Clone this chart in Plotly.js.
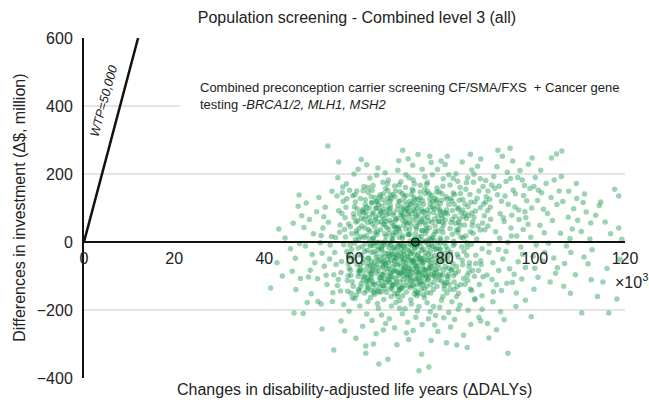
<!DOCTYPE html>
<html>
<head>
<meta charset="utf-8">
<script src="https://cdn.plot.ly/plotly-3.0.1.min.js"></script>
<style>html,body{margin:0;padding:0;background:#fff;}#chart{width:649px;height:402px;}</style>
</head>
<body>
<div id="chart"></div>
<script>
// Simulated outcomes: [ΔDALYs (thousands), Δ$ (million)]
const coreSims = [
[62.3,41],[70.8,-12],[75.4,88],[66.1,-97],[81.7,23],[58.9,-45],[73.2,131],[68.4,6],[79.9,-138],[64.7,72],[77.1,-63],[71.6,54],[60.2,118],[84.3,-28],[69.5,-151],[74.8,17],[57.6,-8],[82.9,97],[65.3,-121],[72.4,-35],
[67.9,109],[78.6,61],[63.5,-70],[86.2,-84],[70.1,148],[59.8,83],[76.3,-109],[73.9,-2],[61.4,-132],[80.5,126],[68.8,-56],[75.9,39],[56.7,29],[83.1,-151],[71.2,93],[64.1,10],[78.2,-19],[66.9,157],[72.8,-89],[87.4,47],
[69.2,68],[62.8,-25],[80.1,-72],[74.3,113],[58.4,-113],[77.7,5],[65.8,36],[85.6,140],[70.5,-44],[61.9,96],[73.5,-143],[67.2,-79],[79.3,79],[63.9,152],[76.8,-27],[55.9,-66],[82.2,-5],[71.9,22],[68.1,127],[74.6,-117],
[60.7,62],[78.9,-99],[66.4,-3],[84.7,18],[72.1,74],[57.3,145],[75.2,-58],[69.8,-131],[63.2,-48],[81.4,57],[70.3,-88],[77.4,103],[64.5,-154],[86.9,-39],[73.7,45],[59.4,-22],[67.6,84],[79.6,-160],[62.1,13],[74.0,-71],
[71.4,137],[65.5,-106],[83.6,86],[68.6,-17],[76.0,-130],[58.1,102],[72.6,-53],[80.8,-41],[66.7,51],[61.1,-92],[75.6,156],[70.0,30],[78.4,-3],[63.7,-141],[85.1,-113],[69.0,-66],[73.1,94],[56.2,-128],[82.6,35],[67.4,-34],
[74.9,61],[60.4,-156],[77.0,-84],[65.0,120],[71.8,-105],[79.0,12],[62.6,88],[68.3,-139],[84.0,-67],[73.4,-19],[58.7,53],[76.6,142],[66.2,-59],[81.0,-124],[70.7,77],[64.3,-11],[87.9,101],[72.3,3],[59.1,-83],[75.1,-97],
[67.0,16],[78.1,118],[63.0,-115],[70.9,-29],[82.4,-92],[65.7,139],[73.8,-158],[61.6,-38],[77.9,47],[69.6,107],[74.5,-46],[57.9,71],[80.3,-14],[66.0,-146],[72.0,57],[85.9,-7],[68.0,-102],[75.7,25],[62.4,124],[79.5,-57],
[71.1,-75],[64.9,100],[76.9,-150],[60.0,-4],[83.3,68],[69.3,-117],[73.0,150],[67.7,-42],[78.7,-111],[58.6,-99],[74.2,83],[65.2,-23],[81.9,144],[70.4,-137],[63.4,31],[76.4,-7],[56.5,92],[72.7,-127],[68.9,44],[80.0,-33],
[66.5,-128],[75.3,110],[61.8,-60],[79.7,87],[71.5,-147],[64.0,-85],[84.5,-124],[69.9,39],[77.2,-52],[59.6,136],[73.3,-68],[67.3,128],[82.0,2],[62.9,-105],[75.5,-137],[70.2,-6],[86.5,73],[65.9,-41],[78.3,159],[60.9,9],
[66.3,-71],[71.7,-22],[74.1,-93],[68.7,48],[63.6,-9],[77.6,-118],[70.6,11],[65.6,-133],[72.9,65],[69.4,-86],[75.8,-31],[64.6,27],[78.8,-77],[67.8,-110],[73.6,-48],[61.3,-79],[76.2,72],[70.8,-99],[66.8,-64],[74.7,-14],
[68.5,-125],[72.2,37],[63.1,-134],[77.3,14],[69.7,-38],[65.1,58],[75.0,-104],[71.3,-61],[79.2,-36],[62.7,-117],[73.0,-81],[67.5,-4],[76.7,-69],[64.4,-62],[70.0,-142],[74.4,53],[68.2,-28],[72.5,-115],[66.6,-89],[78.5,32],
[60.6,-67],[71.0,-50],[75.4,-80],[63.8,-95],[69.1,-108],[77.8,-93],[65.4,-16],[73.9,-126],[67.1,-148],[80.7,-108],[62.0,-51],[70.3,-73],[74.0,-40],[68.0,-9],[76.1,-149],[64.2,-149],[72.4,-96],[66.0,-113],[79.8,-83],[71.9,-130],
[58.0,15],[59.7,-130],[61.0,40],[62.2,-150],[63.3,99],[64.8,-35],[66.2,76],[67.9,-92],[69.0,133],[70.4,-20],[71.7,108],[73.1,-60],[74.6,147],[76.0,4],[77.5,-140],[78.9,95],[80.2,-48],[81.6,121],[83.0,-86],[84.4,50],
[85.7,-138],[87.1,9],[57.1,-57],[60.0,104],[61.7,-14],[63.0,146],[64.0,-118],[65.9,88],[67.3,-50],[68.6,19],[70.1,-117],[71.3,160],[72.7,-30],[74.0,100],[75.3,-155],[76.5,62],[77.9,-22],[79.4,142],[80.9,-95],[82.3,76],
[83.8,-14],[85.2,104],[86.6,-101],[88.0,-55],[58.5,-145],[60.5,25],[62.0,-103],[63.6,60],[65.0,-76],[66.4,142],[68.1,-160],[69.5,95],[70.9,-57],[72.3,120],[73.8,-10],[75.1,90],[76.4,-96],[77.8,129],[79.1,-4],[80.5,-150],
[81.8,-63],[83.2,123],[84.9,-40],[86.3,26],[56.8,50],[59.2,-98],[61.5,70],[64.6,-140],[67.0,60],[69.6,-160],[72.0,90],[74.5,-122],[77.0,-43],[79.6,28],[82.1,-118],[84.6,83],[87.5,-84],[71.0,-83],[68.4,-73],[73.5,24]
];
const denseSims = [
[61.2,-84],[62.9,57],[64.3,-29],[65.7,93],[67.0,-66],[68.3,12],[69.7,-99],[71.0,73],[72.4,-7],[73.7,39],[75.1,-72],[76.4,85],[77.8,-40],[79.1,6],[60.4,32],[63.8,-57],[66.6,-8],[69.0,62],[71.9,-44],[74.8,-91],
[62.0,87],[63.5,-93],[65.0,21],[66.5,-45],[68.0,100],[69.4,-23],[70.9,49],[72.2,-83],[73.6,72],[75.0,4],[76.3,-55],[77.7,97],[79.0,-95],[61.0,-38],[64.6,66],[67.6,-78],[70.4,87],[73.2,-35],[76.0,33],[78.6,-64],
[60.8,-18],[62.5,76],[64.0,-71],[65.5,-1],[67.1,43],[68.7,-86],[70.2,-33],[71.6,98],[73.0,-54],[74.3,15],[75.9,-82],[77.2,58],[78.9,-19],[63.3,8],[66.2,-96],[69.2,27],[72.8,83],[75.6,-43],[79.5,71],[80.9,-77],
[61.6,47],[63.0,-62],[64.7,99],[66.1,-25],[67.8,64],[69.1,-50],[70.7,18],[72.1,-69],[73.4,91],[74.9,-25],[76.6,42],[78.1,-88],[79.8,51],[62.3,-99],[65.2,-52],[68.6,79],[71.4,-95],[74.1,-60],[77.0,7],[80.4,95],
[55.6,-31],[57.2,84],[58.8,-77],[60.1,139],[82.7,-131],[84.1,12],[85.5,-61],[86.8,91],[88.3,-20],[89.6,47],[56.4,-110],[57.8,37],[59.3,-151],[83.5,143],[85.0,-98],[86.2,59],[87.7,-125],[89.1,118],[81.3,-30],[83.9,-54],
[61.3,128],[64.1,-124],[66.9,115],[69.9,-140],[72.6,140],[75.4,-118],[78.2,124],[80.6,-101],[62.7,-143],[65.6,132],[68.4,-129],[71.2,119],[74.2,-152],[77.1,137],[79.9,-121],[63.9,115],[67.4,-114],[70.6,142],[73.9,-109],[76.8,114],
[59.0,-9],[60.3,59],[61.9,-112],[63.1,37],[64.9,-92],[66.7,24],[68.8,-43],[70.5,104],[72.5,-103],[74.7,68],[76.5,-15],[78.3,-130],[80.1,65],[81.5,-83],[82.9,28],[84.2,-107],[85.3,78],[86.9,-63],[88.5,-102],[87.2,129],
[60.9,-140],[62.8,-72],[64.4,-4],[66.3,52],[68.1,-55],[69.8,-12],[71.6,-118],[73.3,10],[75.0,-49],[76.9,-126],[78.4,77],[80.0,-3],[81.2,-139],[82.8,-36],[84.8,69],[86.0,-143],[87.9,35],[58.3,127],[59.8,-56],[57.0,-90],
[66.0,-20],[67.4,-100],[68.8,29],[70.2,-93],[71.5,-5],[72.9,-57],[74.3,-107],[75.7,-1],[77.1,-97],[78.5,-46],[65.3,-85],[66.8,-137],[68.2,-1],[69.5,-67],[70.8,-110],[72.2,-26],[73.6,-73],[75.0,-125],[76.4,-36],[77.8,-70],
[63.4,-110],[64.8,-46],[66.2,-128],[67.6,-16],[69.0,-83],[70.4,-48],[71.8,-87],[73.1,-128],[74.5,-2],[75.9,-97],[62.1,-84],[63.7,-30],[65.1,-145],[66.5,-57],[67.9,-119],[69.3,-36],[70.7,-158],[72.1,-78],[73.5,-111],[74.9,-56],
[60.6,97],[61.9,151],[63.3,71],[64.6,130],[66.0,105],[67.4,151],[68.7,86],[70.1,121],[71.4,60],[72.8,155],[74.1,126],[75.5,74],[76.8,102],[78.2,146],[79.5,57],[80.9,110],[82.2,140],[62.4,110],[65.4,79],[69.1,150],
[71.0,133],[73.9,57],[77.5,87],[81.7,93],[84.0,125],[86.1,48],[88.8,77],[67.7,95],[64.2,86],[74.6,130],[79.0,113],[83.1,58],[85.8,117],[87.6,150],[89.9,-5],[90.5,-110],[91.3,30],[92.9,-50],[94.1,111],[95.4,-95]
];
const centreSims = [
[59.4,24],[60.8,-101],[62.1,66],[63.5,-12],[64.9,118],[66.2,-74],[67.6,38],[69.0,-124],[70.3,81],[71.7,-41],[73.0,116],[74.4,-86],[75.8,50],[77.1,-9],[78.5,104],[79.9,-128],[81.2,40],[82.6,-71],[84.0,94],[60.0,-45],
[61.5,-122],[62.6,19],[64.1,-80],[65.3,110],[66.9,-33],[68.2,56],[69.5,-6],[70.9,-128],[72.2,102],[73.8,-87],[75.1,33],[76.3,-112],[77.7,68],[79.2,-50],[80.5,11],[82.0,-99],[83.4,49],[85.0,-15],[58.6,-63],[67.0,-120],
[60.2,8],[61.7,91],[63.0,-47],[64.5,44],[65.8,-105],[67.2,80],[68.5,-35],[69.9,14],[71.2,-71],[72.6,50],[73.9,-148],[75.3,-21],[76.7,127],[78.0,-104],[79.4,40],[80.8,-57],[82.1,111],[83.5,-126],[84.9,-2],[66.1,125],
[58.3,-28],[59.9,72],[61.3,-67],[62.8,-129],[64.2,12],[65.6,-56],[67.0,97],[68.4,-102],[69.7,44],[71.1,-15],[72.4,-134],[73.8,78],[75.2,-61],[76.6,10],[78.0,-81],[79.3,123],[80.7,-22],[82.1,-140],[83.6,15],[85.4,-72],
[62.4,-5],[63.9,82],[65.5,-148],[66.8,3],[68.2,-88],[69.6,70],[71.0,-35],[72.3,23],[73.7,-97],[75.1,122],[76.5,-78],[77.9,30],[79.3,-115],[80.6,82],[81.9,-10],[63.2,-85],[70.0,-62],[74.2,-33],[77.5,-13],[71.4,38],
[66.7,-108],[68.9,-17],[70.6,-134],[72.0,-54],[73.4,-16],[74.8,-139],[76.2,-52],[77.6,-100],[79.0,-23],[69.3,-48],[67.5,-61],[71.8,-100],[65.0,-67],[63.8,-105],[75.6,-84],[72.7,-10],[68.0,-135],[74.0,-79],[70.9,-86],[76.9,-74],
[64.4,-125],[62.3,-27],[61.0,-145],[66.1,-12],[67.9,-40],[70.1,-9],[72.8,-114],[74.4,-49],[78.2,-58],[80.4,-120],[81.6,-80],[59.5,-117],[60.9,-85],[64.9,-2],[69.8,-91],[73.3,-153],[76.0,-103],[79.6,-98],[83.0,-44],[68.9,-152],
[63.7,134],[65.9,60],[68.5,139],[70.8,97],[73.4,125],[76.1,94],[78.7,60],[81.3,129],[84.2,75],[66.4,89],[72.4,111],[75.7,143],[80.2,85],[61.1,83],[69.8,119],[77.3,119],[67.9,121],[74.8,96],[83.0,101],[86.7,118]
];
const aboveSims = [
[59.1,45],[61.4,16],[63.8,117],[65.1,31],[66.6,68],[68.0,138],[69.3,41],[70.7,63],[72.0,21],[73.5,107],[74.9,34],[76.2,149],[77.6,22],[79.0,90],[80.3,133],[81.7,67],[83.1,37],[84.5,112],[86.0,85],[88.4,56],
[90.1,102],[91.7,139],[93.2,60],[94.8,18],[96.4,94],[98.0,71],[62.7,102],[64.0,54],[67.7,26],[71.8,84],[75.4,58],[78.8,148],[82.4,55],[85.7,30],[89.2,133],[92.6,120],[95.7,142],[97.4,37],[99.8,163],[101.9,96],
[60.5,150],[63.0,160],[66.3,176],[69.9,168],[73.0,182],[76.0,170],[79.6,164],[82.9,179],[86.4,176],[89.6,150],[92.1,164],[94.6,187],[97.2,182],[100.8,152],[104.3,182],[107.5,149],[58.9,152],[87.9,186],[84.7,155],[80.9,198]
];
const upperSims = [
[58.2,171],[63.4,188],[66.8,204],[70.3,177],[72.9,226],[75.6,192],[78.4,213],[81.2,168],[83.9,235],[86.5,199],[89.1,181],[61.5,243],[68.9,165],[74.1,257],[79.7,186],[84.8,174],[91.6,221],[96.2,190],[99.4,247],[102.5,172],
[65.2,218],[69.8,239],[73.3,171],[77.0,234],[80.6,252],[88.0,244],[93.9,205],[97.7,166],[101.3,211],[104.8,259],[59.9,200],[64.1,166],[71.4,198],[76.2,176],[82.5,201],[85.7,258],[90.4,168],[95.1,238],[105.9,193],[109.2,172],
[56.3,189],[62.7,227],[67.5,182],[75.0,214],[87.3,223],[92.8,252],[98.6,229],[103.7,247],[57.4,162],[80.1,228],
[62.1,163],[64.9,196],[67.3,171],[69.6,211],[72.1,189],[74.6,167],[77.3,198],[79.2,238],[81.9,187],[83.4,160],[86.0,212],[88.5,163],[90.9,193],[93.6,178],[96.7,210],[100.1,190],[60.8,214],[71.9,245],[76.7,252],[85.1,189]
];
const rightSims = [
[88.6,112],[90.2,67],[91.9,-22],[93.4,135],[94.7,41],[96.3,-58],[97.8,89],[99.1,14],[100.6,122],[102.2,-31],[103.9,63],[105.4,150],[107.0,-12],[108.6,98],[110.3,31],[111.8,-64],[113.5,79],[115.1,-118],[116.8,24],[118.9,-51],
[89.4,-97],[91.1,158],[92.6,-143],[94.0,-1],[95.6,103],[97.1,-109],[98.5,52],[100.0,-77],[101.5,145],[103.0,-4],[104.6,-92],[106.2,119],[107.9,-151],[109.5,64],[111.0,141],[112.7,-23],[114.3,107],[116.0,-78],[117.7,155],[119.3,8],
[88.9,36],[90.7,-61],[92.3,83],[93.8,-121],[95.2,152],[96.9,-15],[98.2,121],[99.8,-139],[101.1,49],[102.8,84],[104.2,-47],[105.7,26],[107.4,73],[109.0,-96],[110.7,116],[112.2,9],[113.9,-160],[115.6,59],[96.0,18],[99.6,-42],
[89.8,-30],[91.5,-126],[93.0,71],[94.4,-79],[95.9,-150],[97.5,137],[100.3,-9],[103.4,-118],[106.6,-63],[108.3,38],
[88.3,-158],[90.0,126],[92.0,-84],[94.9,79],[97.3,-36],[98.9,157],[101.8,-56],[104.9,110],[108.0,-31],[111.4,88],
[85.4,-88],[86.7,-170],[88.1,-66],[89.5,92],[90.8,-146],[92.2,11],[93.6,-28],[95.0,-119],[96.5,66],[97.9,-75],[99.3,100],[100.7,-104],[102.1,27],[103.6,131],[105.0,-76],[106.4,-130],[107.8,10],[109.3,128],[110.9,-44],[112.5,-111]
];
const lowerSims = [
[55.1,-175],[58.8,-204],[61.2,-188],[63.9,-231],[66.5,-169],[68.9,-252],[71.2,-196],[73.6,-221],[76.1,-179],[78.5,-263],[80.9,-207],[83.4,-185],[85.8,-243],[88.3,-198],[90.7,-176],[93.2,-229],[95.8,-190],[60.3,-283],[64.8,-270],[69.4,-302],
[72.0,-287],[74.9,-330],[77.8,-244],[80.4,-296],[84.2,-274],[87.6,-221],[91.5,-258],[57.0,-232],[62.5,-327],[66.0,-215],[70.1,-172],[75.5,-164],[79.3,-171],[82.2,-228],[86.7,-167],[92.4,-205],[97.9,-171],[52.6,-182],[67.4,-345],[73.0,-260],
[59.5,-165],[65.3,-195],[71.8,-236],[76.8,-205],[81.6,-176],[68.2,-188],[63.0,-175],[74.3,-190],[78.0,-216],[61.8,-248],[70.6,-211],[83.0,-198],[57.8,-262],[89.5,-240],[99.2,-220],[77.0,-290],[64.2,-300],[85.0,-310],[72.5,-170],[66.9,-240],
[60.1,-166],[62.7,-212],[65.1,-181],[67.7,-226],[70.0,-195],[72.6,-182],[75.0,-243],[77.5,-190],[79.8,-223],[82.6,-160],[85.2,-201],[88.0,-232],[63.6,-163],[66.4,-259],[69.2,-178],[71.5,-268],[73.9,-203],[76.4,-226],[78.9,-192],[81.3,-250]
];
const leftSims = [
[44.6,12],[46.9,-48],[48.3,77],[49.8,-103],[50.9,24],[52.1,131],[53.3,-71],[54.2,58],[45.8,-20],[47.5,105],[49.1,-12],[50.4,-152],[51.6,89],[52.8,-33],[53.9,-125],[55.0,149],[46.2,-86],[48.8,43],[51.2,-61],[54.6,-9],
[42.8,-61],[47.0,-140],[50.0,66],[53.5,102],[55.4,-96],[49.5,-178],[52.4,-2],[54.9,16],[51.8,-108],[53.0,41],
[46.4,55],[48.0,-107],[49.3,115],[50.6,-37],[51.9,-175],[53.2,74],[54.5,-50],[55.8,13],[56.9,-144],[57.5,120],[58.6,-37],[47.8,-5],[50.2,-83],[52.6,19],[55.2,-149],[56.1,135],[57.6,-184],[53.7,-98],[48.6,-210],[44.0,-100]
];
const outlierSims = [
[54.1,282],[70.7,270],[56.5,235],[91.8,270],[94.5,276],[106.0,268],[47.7,138],[43.2,38],[118.6,135],[118.6,41],[114.6,118],[112.4,56],
[94.0,-327],[118.2,-168],[116.4,-209],[110.4,-209],[82.7,-303],[89.8,-282],[41.4,-135],[46.6,-209],[52.8,-256],[74.3,-379],[65.4,-359],[76.5,-368],[62.5,-306],[55.4,-318]
];
const meanPoint = [73.5, 0];
const wtpPerDaly = 50000;          // $ per DALY
const xTicks = [0, 20, 40, 60, 80, 100, 120];
const yTicks = [-400, -200, 0, 200, 400, 600];

const allSims = [].concat(coreSims, denseSims, centreSims, aboveSims, upperSims, rightSims, lowerSims, leftSims, outlierSims);
const simDaly = allSims.map(p => p[0]);
const simCost = allSims.map(p => p[1]);

// WTP threshold line: cost ($M) = DALYs(k) * 1000 * WTP / 1e6
const yMax = 600;
const wtpX = yMax / (wtpPerDaly * 1000 / 1e6);

const traces = [
  {type:'scatter', mode:'markers', x:simDaly, y:simCost, hoverinfo:'skip',
   marker:{size:5.5, color:'rgba(20,150,75,0.42)', line:{width:0}}},
  {type:'scatter', mode:'lines', x:[0, wtpX], y:[0, yMax], line:{color:'#111', width:2.5}, hoverinfo:'skip'},
  {type:'scatter', mode:'markers', x:[meanPoint[0]], y:[meanPoint[1]], hoverinfo:'skip',
   marker:{size:8, color:'#1a9a4f', line:{color:'#111', width:1.2}}}
];

const font = {family:'"Liberation Sans", Arial, Helvetica, sans-serif', color:'#222'};

const layout = {
  width:649, height:402,
  margin:{l:84, r:24, t:38, b:24},
  paper_bgcolor:'#fff', plot_bgcolor:'#fff',
  showlegend:false,
  font:Object.assign({size:16}, font),
  title:{text:'Population screening - Combined level 3 (all)', font:Object.assign({}, font, {size:16}),
         x:357/649, xanchor:'center', xref:'container', y:1-17/402, yanchor:'middle', yref:'container'},
  xaxis:{range:[0,120], tickvals:xTicks, ticktext:xTicks.map(String), anchor:'free', position:0.4,
         showline:true, linecolor:'#111', linewidth:2, showgrid:false, zeroline:false,
         ticks:'outside', ticklen:2, tickcolor:'rgba(0,0,0,0)', tickfont:Object.assign({}, font, {size:16}),
         fixedrange:true},
  yaxis:{range:[-400,600], tickvals:yTicks, showline:true, linecolor:'#111', linewidth:2,
         showgrid:true, gridcolor:'#e4e4e4', gridwidth:1.2, zeroline:false,
         ticks:'outside', ticklen:6, tickcolor:'rgba(0,0,0,0)', tickfont:Object.assign({}, font, {size:16}),
         fixedrange:true},
  shapes:[
    {type:'rect', xref:'x', yref:'y', x0:21.3, x1:120, y0:385, y1:425, fillcolor:'#fff', line:{width:0}, layer:'above'}
  ],
  annotations:[
    {xref:'x', yref:'y', x:25.3, y:430, xanchor:'left', yanchor:'middle', align:'left', showarrow:false,
     text:'Combined preconception carrier screening CF/SMA/FXS  + Cancer gene<br>testing -<i>BRCA1/2, MLH1, MSH2</i>',
     font:Object.assign({}, font, {size:13})},
    {xref:'x', yref:'y', x:4.4, y:415, showarrow:false, textangle:-75, text:'<i>WTP=50,000</i>',
     font:Object.assign({}, font, {size:12.5})},
    {xref:'paper', yref:'paper', x:-0.14, y:0.5, showarrow:false, textangle:-90,
     text:'Differences in investment (Δ$, million)', font:Object.assign({}, font, {size:16})},
    {xref:'paper', yref:'paper', x:0.5, y:-0.035, showarrow:false, yanchor:'middle',
     text:'Changes in disability-adjusted life years (ΔDALYs)', font:Object.assign({}, font, {size:16})},
    {xref:'paper', yref:'paper', x:0.978, y:0.25, xanchor:'left', showarrow:false,
     text:'×10<sup>3</sup>', font:Object.assign({}, font, {size:16})}
  ]
};

Plotly.newPlot('chart', traces, layout, {displayModeBar:false, staticPlot:true});
</script>
</body>
</html>
